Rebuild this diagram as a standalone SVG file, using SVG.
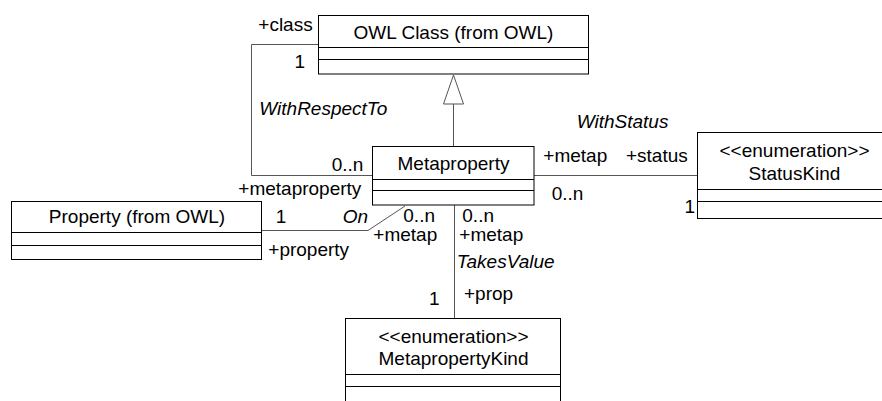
<svg xmlns="http://www.w3.org/2000/svg" width="882" height="401" viewBox="0 0 882 401">
<defs>
<style>
.box{fill:#fff;stroke:#000;stroke-width:1}
.div{stroke:#000;stroke-width:1}
.con{fill:none;stroke:#555;stroke-width:1}
text{font-family:"Liberation Sans",Arial,sans-serif;font-size:19px;fill:#000}
.c{text-anchor:middle}
.i{font-style:italic}
</style>
</defs>
<rect width="882" height="401" fill="#fff"/>
<g id="connectors">
<polyline class="con" points="318,44.5 251.5,44.5 251.5,175.5 372,175.5"/>
<line class="con" x1="453.5" y1="146" x2="453.5" y2="104"/>
<polygon points="453.5,75 443.5,104 463.5,104" fill="#fff" stroke="#555" stroke-width="1"/>
<line class="con" x1="534" y1="175.5" x2="697" y2="175.5"/>
<polyline class="con" points="261,230.5 368,230.5 405,206"/>
<line class="con" x1="454.5" y1="205" x2="454.5" y2="318"/>
</g>
<g id="owlclass">
<rect class="box" x="318.5" y="15.5" width="270" height="58.5"/>
<line class="div" x1="318.5" y1="47.5" x2="588.5" y2="47.5"/>
<line class="div" x1="318.5" y1="59.5" x2="588.5" y2="59.5"/>
<text class="c" x="453.5" y="39">OWL Class (from OWL)</text>
</g>
<g id="metaproperty">
<rect class="box" x="372.5" y="146.5" width="161.5" height="58.5"/>
<line class="div" x1="372.5" y1="179.5" x2="534" y2="179.5"/>
<line class="div" x1="372.5" y1="190.5" x2="534" y2="190.5"/>
<text class="c" x="453.5" y="170">Metaproperty</text>
</g>
<g id="property">
<rect class="box" x="11.5" y="201.5" width="250" height="58"/>
<line class="div" x1="11.5" y1="232.5" x2="261.5" y2="232.5"/>
<line class="div" x1="11.5" y1="245.5" x2="261.5" y2="245.5"/>
<text class="c" x="137" y="223.3">Property (from OWL)</text>
</g>
<g id="statuskind">
<rect class="box" x="697.5" y="132.5" width="200" height="86"/>
<line class="div" x1="697.5" y1="189.5" x2="897.5" y2="189.5"/>
<line class="div" x1="697.5" y1="201.5" x2="897.5" y2="201.5"/>
<text class="c" x="794.5" y="156.7">&lt;&lt;enumeration&gt;&gt;</text>
<text class="c" x="794.5" y="180">StatusKind</text>
</g>
<g id="metapropertykind">
<rect class="box" x="345.5" y="318.5" width="215" height="100"/>
<line class="div" x1="345.5" y1="374.5" x2="560.5" y2="374.5"/>
<line class="div" x1="345.5" y1="386.5" x2="560.5" y2="386.5"/>
<text class="c" x="453.5" y="343.3">&lt;&lt;enumeration&gt;&gt;</text>
<text class="c" x="453.5" y="365">MetapropertyKind</text>
</g>
<g id="labels">
<text x="258.3" y="30.7">+class</text>
<text x="294.5" y="68">1</text>
<text class="i" x="259.3" y="115">WithRespectTo</text>
<text x="331.7" y="170.7">0..n</text>
<text x="238.3" y="195">+metaproperty</text>
<text class="i" x="576.7" y="128.3">WithStatus</text>
<text x="543.3" y="161.7">+metap</text>
<text x="626" y="161.7">+status</text>
<text x="551.7" y="200">0..n</text>
<text x="684.5" y="213">1</text>
<text x="275.7" y="223">1</text>
<text class="i" x="342.7" y="223">On</text>
<text x="403.3" y="222">0..n</text>
<text x="373.3" y="241">+metap</text>
<text x="268.3" y="255.5">+property</text>
<text x="462.3" y="222">0..n</text>
<text x="459.3" y="241">+metap</text>
<text class="i" x="456.7" y="268.3">TakesValue</text>
<text x="429" y="305">1</text>
<text x="464" y="300">+prop</text>
</g>
</svg>
